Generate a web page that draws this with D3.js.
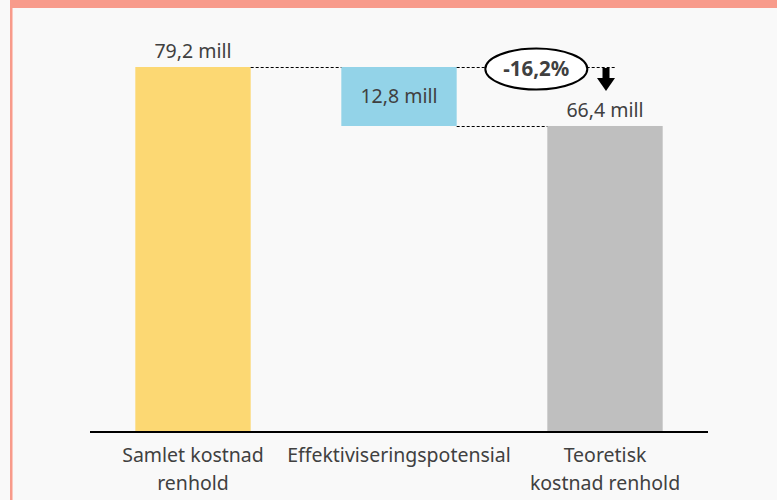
<!DOCTYPE html>
<html>
<head>
<meta charset="utf-8">
<script src="https://cdn.jsdelivr.net/npm/d3@7"></script>
<style>
  body { margin: 0; background: #f9f9f9; }
  svg { display: block; font-family: "Segoe UI", "Noto Sans", "Open Sans", sans-serif; }
</style>
</head>
<body>
<div id="chart"></div>
<script>
// Categories, one label line per array entry
var categories = [
  ["Samlet kostnad", "renhold"],
  ["Effektiviseringspotensial"],
  ["Teoretisk", "kostnad renhold"]
];
// Waterfall values in mill NOK
var values = [79.2, 12.8, 66.4];
var barColors = ["#fcd873", "#93d3e8", "#bfbfbf"];
var changeLabel = "-16,2%";

var width = 777, height = 500;
var margin = {left: 90, right: 69, top: 67, bottom: 68};
var fontSize = 19.5;

var nb = d3.formatLocale({decimal: ",", thousands: " ", grouping: [3], currency: ["", " kr"]});
var fmt = v => nb.format(".1f")(v) + " mill";

var svg = d3.select("#chart")
  .append("svg")
  .attr("width", width)
  .attr("height", height);

// Card background with salmon border on top and left
svg.append("rect")
  .attr("x", 0).attr("y", 0)
  .attr("width", width).attr("height", height)
  .attr("fill", "#f9f9f9");
svg.append("rect")
  .attr("x", 10).attr("y", 0)
  .attr("width", width - 10).attr("height", 8)
  .attr("fill", "#f89b8b");
svg.append("rect")
  .attr("x", 10).attr("y", 0)
  .attr("width", 2).attr("height", height)
  .attr("fill", "#f89b8b");
svg.append("rect")
  .attr("x", 12).attr("y", 8)
  .attr("width", 1).attr("height", height)
  .attr("fill", "#fbc9c0");

var x = d3.scaleBand()
  .domain(d3.range(categories.length))
  .range([margin.left, width - margin.right])
  .paddingInner(0.44)
  .paddingOuter(0.22);

var y = d3.scaleLinear()
  .domain([0, d3.max(values)])
  .range([height - margin.bottom, margin.top]);

// Build waterfall segments: start total, a drop, end total
var segs = [
  {lo: 0, hi: values[0]},
  {lo: values[0] - values[1], hi: values[0]},
  {lo: 0, hi: values[2]}
];

svg.append("g")
  .selectAll("rect")
  .data(segs)
  .enter().append("rect")
  .attr("x", (d, i) => x(i))
  .attr("y", d => y(d.hi))
  .attr("width", x.bandwidth())
  .attr("height", d => y(d.lo) - y(d.hi))
  .attr("fill", (d, i) => barColors[i]);

// Dashed connectors
var dash = svg.append("g")
  .attr("stroke", "#000")
  .attr("stroke-width", 1)
  .attr("stroke-dasharray", "3,2");

var arrowX = x(2) + x.bandwidth() / 2 + 1;

dash.append("line")
  .attr("x1", x(0) + x.bandwidth()).attr("x2", x(1))
  .attr("y1", Math.round(y(values[0])) + 0.5).attr("y2", Math.round(y(values[0])) + 0.5);
dash.append("line")
  .attr("x1", x(1) + x.bandwidth()).attr("x2", x(2))
  .attr("y1", Math.round(y(segs[1].lo)) + 0.5).attr("y2", Math.round(y(segs[1].lo)) + 0.5);
// Reference line toward the change badge and arrow
dash.append("line")
  .attr("x1", x(1) + x.bandwidth()).attr("x2", arrowX + 10)
  .attr("y1", Math.round(y(values[0])) + 0.5).attr("y2", Math.round(y(values[0])) + 0.5);

// Change badge
var badgeX = x(2) - 11, badgeY = y(values[0]) + 2;
svg.append("ellipse")
  .attr("cx", badgeX).attr("cy", badgeY)
  .attr("rx", 51).attr("ry", 20.5)
  .attr("fill", "#fff")
  .attr("stroke", "#000")
  .attr("stroke-width", 2);
svg.append("text")
  .attr("x", badgeX).attr("y", badgeY + 7)
  .attr("text-anchor", "middle")
  .attr("font-size", 20.5)
  .attr("font-weight", "bold")
  .attr("fill", "#404040")
  .text(changeLabel);

// Down arrow
var aTop = y(values[0]) + 1, aBot = y(values[2]) - 35, headH = 13;
svg.append("rect")
  .attr("x", arrowX - 3.5).attr("y", aTop)
  .attr("width", 7).attr("height", aBot - aTop - headH + 1)
  .attr("fill", "#000");
svg.append("path")
  .attr("d", d3.line()([[arrowX - 9, aBot - headH], [arrowX + 9, aBot - headH], [arrowX, aBot]]))
  .attr("fill", "#000");

// Value labels
svg.append("g")
  .selectAll("text")
  .data(segs)
  .enter().append("text")
  .attr("x", (d, i) => x(i) + x.bandwidth() / 2)
  .attr("y", (d, i) => i == 1 ? (y(d.hi) + y(d.lo)) / 2 + 7 : y(d.hi) - 9)
  .attr("text-anchor", "middle")
  .attr("font-size", fontSize)
  .attr("fill", "#404040")
  .text((d, i) => fmt(values[i]));

// Baseline
svg.append("line")
  .attr("x1", margin.left).attr("x2", width - margin.right)
  .attr("y1", y(0)).attr("y2", y(0))
  .attr("stroke", "#000")
  .attr("stroke-width", 2);

// Category labels
var cat = svg.append("g")
  .selectAll("text")
  .data(categories)
  .enter().append("text")
  .attr("text-anchor", "middle")
  .attr("font-size", fontSize)
  .attr("fill", "#404040")
  .attr("transform", (d, i) => "translate(" + (x(i) + x.bandwidth() / 2) + "," + (y(0) + 30) + ")");

cat.selectAll("tspan")
  .data(d => d)
  .enter().append("tspan")
  .attr("x", 0)
  .attr("y", (d, i) => i * 28)
  .text(d => d);
</script>
</body>
</html>
